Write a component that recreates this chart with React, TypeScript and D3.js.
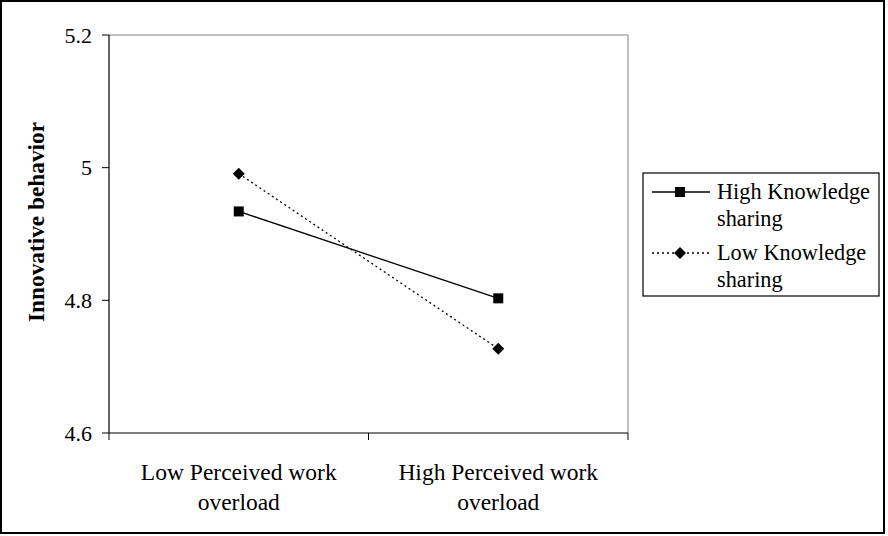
import React from "react";
import * as d3 from "d3";

const categories = ["Low Perceived work|overload", "High Perceived work|overload"];
const seriesNames = ["High Knowledge|sharing", "Low Knowledge|sharing"];
const highKS = [4.934, 4.803];
const lowKS = [4.991, 4.727];
const yTicks = [4.6, 4.8, 5, 5.2];

const W = 888, H = 536;
const left = 109, right = 628, top = 35, bottom = 433;
const FONT = "Liberation Serif, Tinos, Times New Roman, serif";

export default function App() {
  const x = d3.scaleBand<string>().domain(categories).range([left, right]);
  const y = d3.scaleLinear().domain([4.6, 5.2]).range([bottom, top]);
  const line = d3.line<number>().x((_, i) => x(categories[i])! + x.bandwidth() / 2).y((d) => y(d));
  const series = [
    { name: seriesNames[0], values: highKS, dash: undefined as string | undefined, marker: "square" },
    { name: seriesNames[1], values: lowKS, dash: "2,3", marker: "diamond" },
  ];
  const marker = (type: string, cx: number, cy: number, key: string) =>
    type === "square" ? (
      <rect key={key} x={cx - 5} y={cy - 5} width={10} height={10} fill="#000" />
    ) : (
      <path key={key} d={`M${cx},${cy - 6}L${cx + 6},${cy}L${cx},${cy + 6}L${cx - 6},${cy}Z`} fill="#000" />
    );
  const xTickPos = [left, ...categories.map((c) => x(c)! + x.bandwidth())];
  return (
    <svg width={W} height={H} style={{ position: "absolute", left: 0, top: 0 }}>
      <rect x={0} y={0} width={W} height={H} fill="#fff" />
      <rect x={1} y={1} width={883} height={532} fill="none" stroke="#000" strokeWidth={2} />
      <line x1={left} x2={right} y1={top} y2={top} stroke="#808080" strokeWidth={1} />
      <line x1={right} x2={right} y1={top} y2={bottom} stroke="#808080" strokeWidth={1} />
      <line x1={left} x2={left} y1={top} y2={bottom} stroke="#000" strokeWidth={1.2} />
      <line x1={left} x2={right} y1={bottom} y2={bottom} stroke="#000" strokeWidth={1.2} />
      {yTicks.map((t) => (
        <g key={t}>
          <line x1={left - 7} x2={left} y1={y(t)} y2={y(t)} stroke="#000" />
          <text x={left - 17} y={y(t)} dy="0.35em" textAnchor="end" fontSize={22} fontFamily={FONT}>
            {String(t)}
          </text>
        </g>
      ))}
      {xTickPos.map((p, i) => (
        <line key={i} x1={p} x2={p} y1={bottom} y2={bottom + 7} stroke="#000" />
      ))}
      {categories.map((c) => {
        const parts = c.split("|");
        const cx = x(c)! + x.bandwidth() / 2;
        return (
          <text key={c} x={cx} textAnchor="middle" fontSize={23.5} fontFamily={FONT}>
            {parts.map((p, i) => (
              <tspan key={i} x={cx} y={480 + i * 30}>
                {p}
              </tspan>
            ))}
          </text>
        );
      })}
      <text
        transform={`translate(44,222) rotate(-90)`}
        textAnchor="middle"
        fontSize={23.3}
        fontWeight="bold"
        fontFamily={FONT}
      >
        Innovative behavior
      </text>
      {series.map((s, si) => (
        <g key={si}>
          <path d={line(s.values)!} fill="none" stroke="#000" strokeWidth={1.3} strokeDasharray={s.dash} />
          {s.values.map((v, i) =>
            marker(s.marker, x(categories[i])! + x.bandwidth() / 2, y(v), `${si}-${i}`)
          )}
        </g>
      ))}
      <rect x={643} y={173} width={236} height={123} fill="#fff" stroke="#000" strokeWidth={1.2} />
      {series.map((s, si) => {
        const ly = 192 + si * 61;
        const parts = s.name.split("|");
        return (
          <g key={si}>
            <line x1={652} x2={710} y1={ly} y2={ly} stroke="#000" strokeWidth={1.3} strokeDasharray={s.dash} />
            {marker(s.marker, 680, ly, `lg${si}`)}
            <text fontSize={22.3} fontFamily={FONT}>
              {parts.map((p, i) => (
                <tspan key={i} x={717} y={ly + 7 + i * 27}>
                  {p}
                </tspan>
              ))}
            </text>
          </g>
        );
      })}
    </svg>
  );
}
